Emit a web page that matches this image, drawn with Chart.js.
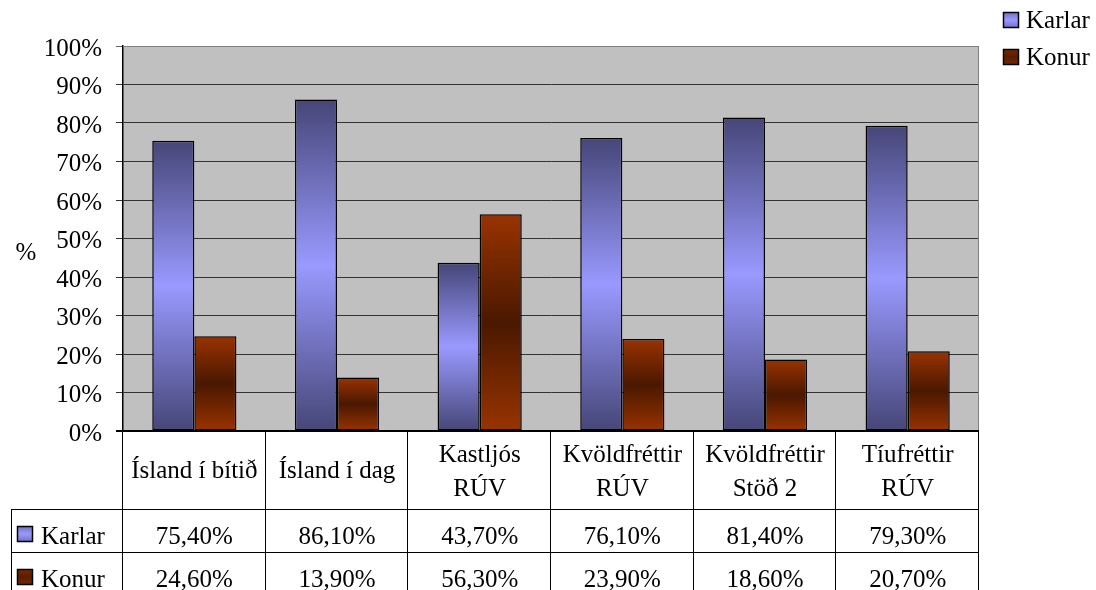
<!DOCTYPE html>
<html>
<head>
<meta charset="utf-8">
<script src="https://cdn.jsdelivr.net/npm/chart.js@4"></script>
<style>
html,body{margin:0;padding:0;background:#fff;}
#wrap{width:1096px;height:590px;position:relative;}
</style>
</head>
<body>
<div id="wrap"><canvas id="c" width="1096" height="590"></canvas></div>
<script>
const categories = [
  ['Ísland í bítið'],
  ['Ísland í dag'],
  ['Kastljós', 'RÚV'],
  ['Kvöldfréttir', 'RÚV'],
  ['Kvöldfréttir', 'Stöð 2'],
  ['Tíufréttir', 'RÚV']
];
const seriesNames = ['Karlar', 'Konur'];
const karlar = [75.4, 86.1, 43.7, 76.1, 81.4, 79.3];
const konur = [24.6, 13.9, 56.3, 23.9, 18.6, 20.7];
const yTicks = [0, 10, 20, 30, 40, 50, 60, 70, 80, 90, 100];
const yTitle = '%';

const FONT = '"Liberation Serif", "Times New Roman", serif';
const FS = 25;
const gradStops = [
  ['#464678', '#9999FF', '#464678'],
  ['#993300', '#4A1800', '#993300']
];

function makeGrad(ctx, top, bottom, stops) {
  if (!isFinite(top) || !isFinite(bottom) || top === bottom) return stops[1];
  const g = ctx.createLinearGradient(0, top, 0, bottom);
  g.addColorStop(0, stops[0]);
  g.addColorStop(0.5, stops[1]);
  g.addColorStop(1, stops[2]);
  return g;
}

function barColor(context) {
  const chart = context.chart;
  const ys = chart.scales && chart.scales.y;
  if (!ys || !chart.chartArea || context.type !== 'data') return gradStops[context.datasetIndex][1];
  const v = context.raw;
  const top = ys.getPixelForValue(v);
  const base = ys.getPixelForValue(0);
  return makeGrad(chart.ctx, top, base, gradStops[context.datasetIndex]);
}

const fmt = v => v.toFixed(2).replace('.', ',') + '%';

const decor = {
  id: 'decor',
  beforeDraw(chart) {
    const {ctx, chartArea: a} = chart;
    ctx.save();
    ctx.fillStyle = '#fff';
    ctx.fillRect(0, 0, chart.width, chart.height);
    ctx.fillStyle = '#C0C0C0';
    ctx.fillRect(a.left, a.top, a.right - a.left, a.bottom - a.top);
    ctx.restore();
  },
  afterDraw(chart) {
    const {ctx, chartArea: a} = chart;
    const xs = chart.scales.x;
    const n = categories.length;
    const colW = (a.right - a.left) / n;
    ctx.save();
    // plot border top/right
    ctx.strokeStyle = '#808080';
    ctx.lineWidth = 1;
    ctx.beginPath();
    ctx.moveTo(a.left, a.top + 0.5);
    ctx.lineTo(a.right - 0.5, a.top + 0.5);
    ctx.lineTo(a.right - 0.5, a.bottom);
    ctx.stroke();
    // bottom axis line
    ctx.strokeStyle = '#000';
    ctx.lineWidth = 2;
    ctx.beginPath();
    ctx.moveTo(a.left - 7, a.bottom);
    ctx.lineTo(a.right, a.bottom);
    ctx.stroke();

    // table
    const tableLeft = 11;
    const row1 = 509.5, row2 = 552.5, tableBottom = 590;
    ctx.strokeStyle = '#000';
    ctx.lineWidth = 1;
    ctx.beginPath();
    for (let i = 0; i <= n; i++) {
      const x = Math.round(a.left + i * colW) - 0.5;
      ctx.moveTo(x, a.bottom);
      ctx.lineTo(x, tableBottom);
    }
    ctx.moveTo(tableLeft + 0.5, row1);
    ctx.lineTo(tableLeft + 0.5, tableBottom);
    ctx.moveTo(tableLeft, row1);
    ctx.lineTo(a.right, row1);
    ctx.moveTo(tableLeft, row2);
    ctx.lineTo(a.right, row2);
    ctx.stroke();

    ctx.fillStyle = '#000';
    ctx.font = FS + 'px ' + FONT;
    ctx.textAlign = 'center';
    ctx.textBaseline = 'middle';
    const series = [karlar, konur];
    const rowY = [537, 580];
    for (let i = 0; i < n; i++) {
      const cx = xs.getPixelForValue(i);
      const lines = categories[i];
      if (lines.length === 1) {
        ctx.fillText(lines[0], cx, 471);
      } else {
        ctx.fillText(lines[0], cx, 455);
        ctx.fillText(lines[1], cx, 489);
      }
      series.forEach((s, k) => ctx.fillText(fmt(s[i]), cx, rowY[k]));
    }
    // row keys
    ctx.textAlign = 'left';
    seriesNames.forEach((name, k) => {
      const sy = rowY[k] - 11;
      drawKey(ctx, 17, sy, 16, k);
      ctx.fillStyle = '#000';
      ctx.fillText(name, 41, rowY[k]);
    });
    // legend top right
    const legY = [20, 57];
    seriesNames.forEach((name, k) => {
      drawKey(ctx, 1003, legY[k] - 8, 16, k);
      ctx.fillStyle = '#000';
      ctx.fillText(name, 1026, legY[k] + 1);
    });
    // y title
    ctx.textAlign = 'center';
    ctx.fillText(yTitle, 26, 253);
    ctx.restore();
  }
};

function drawKey(ctx, x, y, s, k) {
  ctx.save();
  ctx.fillStyle = makeGrad(ctx, y, y + s, k === 0 ? ['#7070C0', '#9999FF', '#7070C0'] : ['#7A2800', '#5A1E00', '#7A2800']);
  ctx.fillRect(x, y, s, s);
  ctx.strokeStyle = '#000';
  ctx.lineWidth = 1.5;
  ctx.strokeRect(x + 0.5, y + 0.5, s - 1, s - 1);
  ctx.restore();
}

Chart.defaults.font.family = FONT;
Chart.defaults.font.size = FS;
Chart.defaults.color = '#000';

new Chart(document.getElementById('c'), {
  type: 'bar',
  data: {
    labels: categories.map(c => c.join(' ')),
    datasets: [
      {label: seriesNames[0], data: karlar, backgroundColor: barColor, borderColor: '#000', borderWidth: 1.5, borderSkipped: false},
      {label: seriesNames[1], data: konur, backgroundColor: barColor, borderColor: '#000', borderWidth: 1.5, borderSkipped: false}
    ]
  },
  options: {
    responsive: false,
    animation: false,
    devicePixelRatio: 1,
    layout: {padding: {top: 46, right: 117, bottom: 159, left: 0}},
    plugins: {legend: {display: false}, tooltip: {enabled: false}},
    datasets: {bar: {categoryPercentage: 0.59, barPercentage: 1}},
    scales: {
      x: {display: false},
      y: {
        min: 0, max: 100,
        afterFit(s) { s.width = 123; },
        afterBuildTicks(s) { s.ticks = yTicks.map(v => ({value: v})); },
        ticks: {
          callback: v => v + '%',
          padding: 14,
          labelOffset: 3,
          font: {size: FS, family: FONT},
          color: '#000'
        },
        grid: {
          color: c => (c.tick && c.tick.value === 100) ? '#666' : '#333',
          lineWidth: 1,
          tickLength: 7,
          drawTicks: true
        },
        border: {color: '#000', width: 1.5}
      }
    }
  },
  plugins: [decor]
});
</script>
</body>
</html>
